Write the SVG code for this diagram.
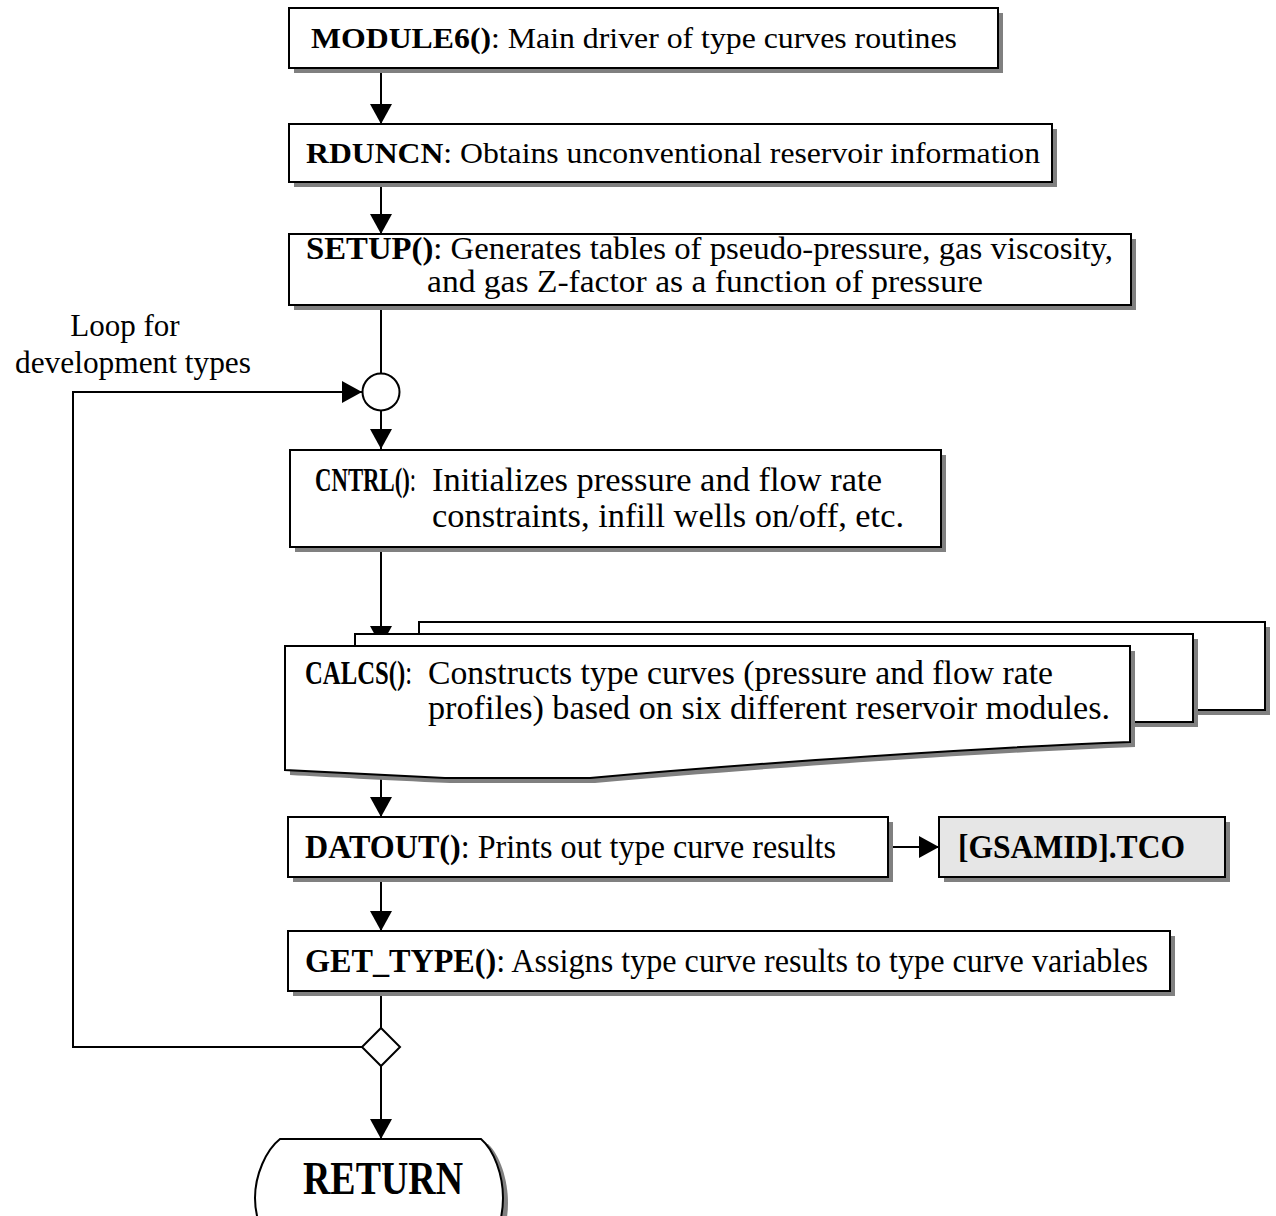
<svg xmlns="http://www.w3.org/2000/svg" width="1276" height="1216" viewBox="0 0 1276 1216">
<defs>
<style>
.box{fill:#fff;stroke:#000;stroke-width:2}
.sh{fill:#808080}
.t{font-family:"Liberation Serif","Times New Roman",serif;font-size:30px;fill:#000}
.c{font-size:33px}
.b{font-weight:bold}
.ln{fill:none;stroke:#000;stroke-width:2}
</style>
<marker id="ah" markerUnits="userSpaceOnUse" markerWidth="22" markerHeight="22" viewBox="0 0 20 22" refX="20" refY="11" orient="auto">
<path d="M0,0 L20,11 L0,22 Z" fill="#000"/>
</marker>
</defs>
<rect width="1276" height="1216" fill="#fff"/>

<g id="connectors">
<line class="ln" x1="381" y1="68" x2="381" y2="124" marker-end="url(#ah)"/>
<line class="ln" x1="381" y1="182" x2="381" y2="234" marker-end="url(#ah)"/>
<line class="ln" x1="381" y1="305" x2="381" y2="373"/>
<line class="ln" x1="381" y1="410" x2="381" y2="449" marker-end="url(#ah)"/>
<line class="ln" x1="381" y1="547" x2="381" y2="646" marker-end="url(#ah)"/>
<line class="ln" x1="381" y1="777" x2="381" y2="817" marker-end="url(#ah)"/>
<line class="ln" x1="888" y1="847" x2="939" y2="847" marker-end="url(#ah)"/>
<line class="ln" x1="381" y1="877" x2="381" y2="931" marker-end="url(#ah)"/>
<line class="ln" x1="381" y1="991" x2="381" y2="1028"/>
<line class="ln" x1="381" y1="1066" x2="381" y2="1139" marker-end="url(#ah)"/>
<polyline class="ln" points="362,1047 73,1047 73,392 362,392" marker-end="url(#ah)"/>
</g>

<g id="module6">
<rect class="sh" x="294" y="13" width="709" height="60"/>
<rect class="box" x="289" y="8" width="709" height="60"/>
<text class="t" x="311" y="48" textLength="646" lengthAdjust="spacingAndGlyphs"><tspan class="b">MODULE6()</tspan>: Main driver of type curves routines</text>
</g>

<g id="rduncn">
<rect class="sh" x="294" y="129" width="763" height="58"/>
<rect class="box" x="289" y="124" width="763" height="58"/>
<text class="t" x="306" y="163" textLength="734" lengthAdjust="spacingAndGlyphs"><tspan class="b">RDUNCN</tspan>: Obtains unconventional reservoir information</text>
</g>

<g id="setup">
<rect class="sh" x="294" y="239" width="842" height="71"/>
<rect class="box" x="289" y="234" width="842" height="71"/>
<text class="t" x="306" y="259" style="font-size:32px" textLength="807" lengthAdjust="spacingAndGlyphs"><tspan class="b">SETUP()</tspan>: Generates tables of pseudo-pressure, gas viscosity,</text>
<text class="t" x="427" y="292" style="font-size:32px" textLength="556" lengthAdjust="spacingAndGlyphs">and gas Z-factor as a function of pressure</text>
</g>

<g id="loop-label">
<text class="t" x="125" y="336" text-anchor="middle" style="font-size:31px">Loop for</text>
<text class="t" x="15" y="373" style="font-size:31px" textLength="236" lengthAdjust="spacingAndGlyphs">development types</text>
</g>

<g id="merge">
<circle cx="381" cy="392" r="18.5" fill="#fff" stroke="#000" stroke-width="2"/>
</g>

<g id="cntrl">
<rect class="sh" x="295" y="455" width="651" height="97"/>
<rect class="box" x="290" y="450" width="651" height="97"/>
<text class="t c" transform="translate(315,491) scale(0.69,1)"><tspan class="b">CNTRL()</tspan>:</text>
<text class="t c" x="432" y="491" textLength="450" lengthAdjust="spacingAndGlyphs">Initializes pressure and flow rate</text>
<text class="t c" x="432" y="527" textLength="472" lengthAdjust="spacingAndGlyphs">constraints, infill wells on/off, etc.</text>
</g>

<g id="calcs">
<rect class="sh" x="424" y="627" width="846" height="88"/>
<rect class="box" x="419" y="622" width="846" height="88"/>
<rect class="sh" x="360" y="639" width="838" height="88"/>
<rect class="box" x="355" y="634" width="838" height="88"/>
<path class="sh" d="M290,651 H1135 V747 C1000,752 760,768 595,783 L450,783 C380,780 330,777 290,775 Z"/>
<path class="box" d="M285,646 H1130 V742 C995,747 755,763 590,778 L445,778 C375,775 325,772 285,770 Z"/>
<text class="t c" transform="translate(305,684) scale(0.75,1)"><tspan class="b">CALCS()</tspan>:</text>
<text class="t c" x="428" y="684" textLength="625" lengthAdjust="spacingAndGlyphs">Constructs type curves (pressure and flow rate</text>
<text class="t c" x="428" y="719" textLength="682" lengthAdjust="spacingAndGlyphs">profiles) based on six different reservoir modules.</text>
</g>

<g id="datout">
<rect class="sh" x="293" y="822" width="600" height="60"/>
<rect class="box" x="288" y="817" width="600" height="60"/>
<text class="t c" x="305" y="858" textLength="531" lengthAdjust="spacingAndGlyphs"><tspan class="b">DATOUT()</tspan>: Prints out type curve results</text>
</g>

<g id="tco">
<rect class="sh" x="944" y="822" width="286" height="60"/>
<rect x="939" y="817" width="286" height="60" fill="#e6e6e6" stroke="#000" stroke-width="2"/>
<text class="t c b" x="958" y="858" textLength="227" lengthAdjust="spacingAndGlyphs">[GSAMID].TCO</text>
</g>

<g id="get_type">
<rect class="sh" x="293" y="936" width="882" height="60"/>
<rect class="box" x="288" y="931" width="882" height="60"/>
<text class="t c" x="305" y="972" textLength="843" lengthAdjust="spacingAndGlyphs"><tspan class="b">GET_TYPE()</tspan>: Assigns type curve results to type curve variables</text>
</g>

<g id="decision">
<polygon points="381,1028 400,1047 381,1066 362,1047" fill="#fff" stroke="#000" stroke-width="2"/>
</g>

<g id="return">
<path class="sh" d="M282,1144 H488 C500,1155 508,1180 508,1203 C508,1226 500,1251 488,1262 H282 Z"/>
<path class="box" d="M280,1139 H481 C494,1150 503,1175 503,1198 C503,1221 494,1246 481,1257 H280 C266,1246 255,1221 255,1198 C255,1175 266,1150 280,1139 Z"/>
<text class="t b" x="383" y="1194" text-anchor="middle" textLength="160" lengthAdjust="spacingAndGlyphs" style="font-size:46px">RETURN</text>
</g>
</svg>
